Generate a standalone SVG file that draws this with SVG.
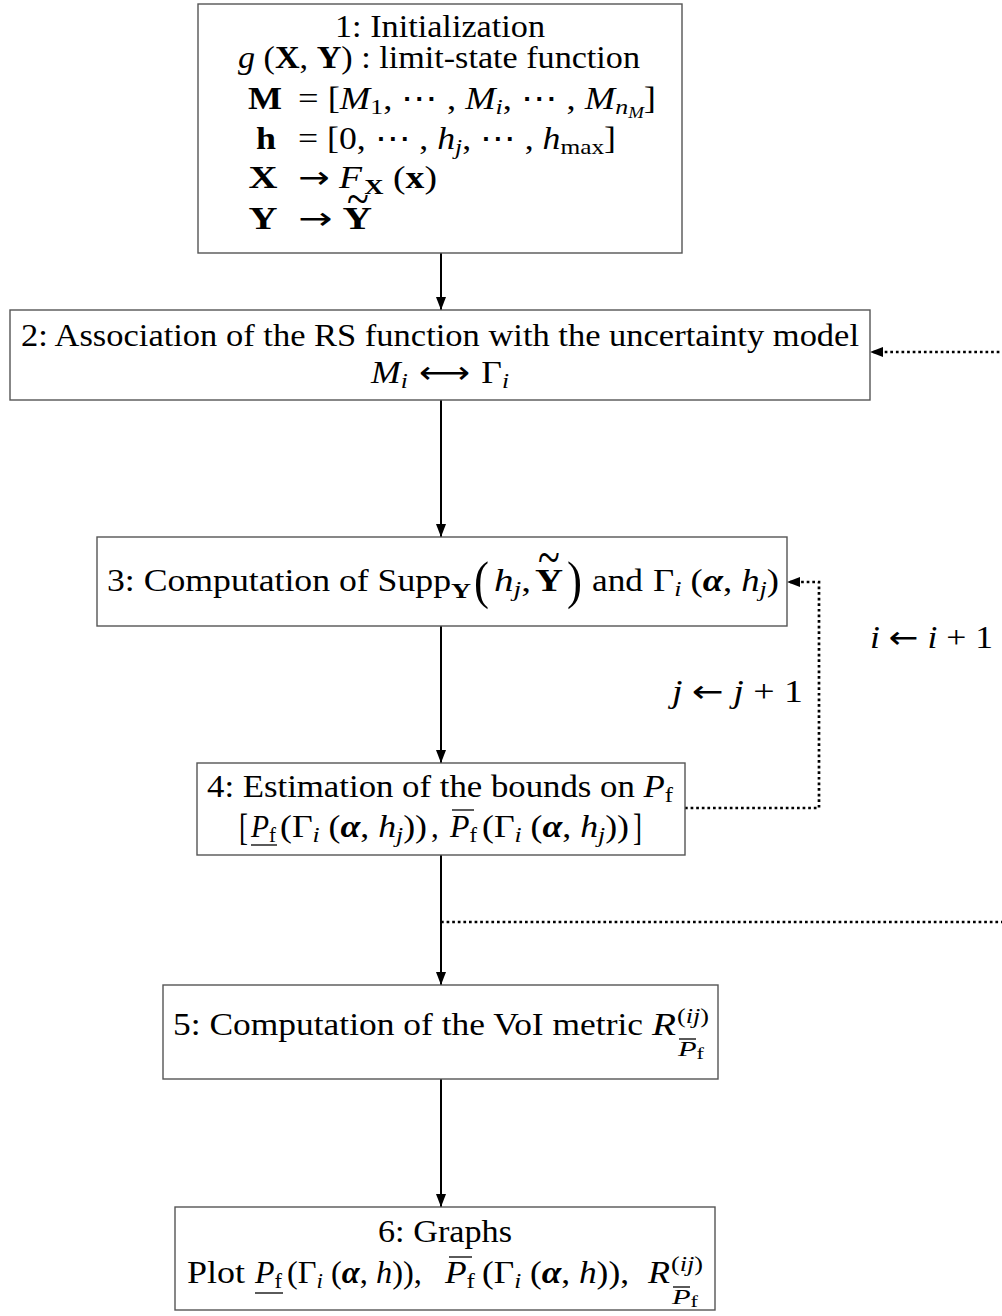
<svg xmlns="http://www.w3.org/2000/svg" width="1002" height="1316" viewBox="0 0 1002 1316">
<defs>
<style>
.t{font-family:"Liberation Serif","DejaVu Serif",serif;font-size:31px;fill:#000}
.i{font-style:italic}
.b{font-weight:bold}
.s{font-size:22px}
.ss{font-size:16px}
.ar{font-family:"DejaVu Sans",sans-serif;font-style:normal;font-weight:normal}
.box{fill:#fff;stroke:#555;stroke-width:1.4}
.edge{stroke:#000;stroke-width:2;fill:none}
.dot{stroke:#000;stroke-width:2.7;stroke-dasharray:2.7 2.9;fill:none}
.rule{stroke:#000;stroke-width:1.3}
</style>
<marker id="ah" markerWidth="13" markerHeight="10" refX="13" refY="5" orient="auto" markerUnits="userSpaceOnUse"><path d="M0,0 L13,5 L0,10 z" fill="#000"/></marker>
<marker id="ahd" markerWidth="13" markerHeight="10" refX="11" refY="5" orient="auto" markerUnits="userSpaceOnUse"><path d="M0,0 L13,5 L0,10 z" fill="#000"/></marker>
</defs>
<rect width="1002" height="1316" fill="#fff"/>

<g id="connectors">
<path class="edge" d="M441,253 V310" marker-end="url(#ah)"/>
<path class="edge" d="M441,400 V537" marker-end="url(#ah)"/>
<path class="edge" d="M441,626 V763" marker-end="url(#ah)"/>
<path class="edge" d="M441,855 V985" marker-end="url(#ah)"/>
<path class="edge" d="M441,1079 V1207" marker-end="url(#ah)"/>
<path class="dot" d="M685,808 H819 V582 H789" marker-end="url(#ahd)"/>
<path class="dot" d="M441,922 H1012 V352 H872" marker-end="url(#ahd)"/>
<text class="t" x="870" y="648" textLength="123" lengthAdjust="spacingAndGlyphs"><tspan class="i">i</tspan> <tspan class="ar">←</tspan> <tspan class="i">i</tspan> + 1</text>
<text class="t" x="672" y="702" textLength="131" lengthAdjust="spacingAndGlyphs"><tspan class="i">j</tspan> <tspan class="ar">←</tspan> <tspan class="i">j</tspan> + 1</text>
</g>

<g id="node1">
<rect class="box" x="198" y="4" width="484" height="249"/>
<text class="t" x="440" y="37" text-anchor="middle" textLength="210" lengthAdjust="spacingAndGlyphs">1: Initialization</text>
<text class="t" x="238" y="68" textLength="402" lengthAdjust="spacingAndGlyphs"><tspan class="i">g</tspan> (<tspan class="b">X</tspan>, <tspan class="b">Y</tspan>) : limit-state function</text>
<text class="t b" x="265" y="109" text-anchor="middle" textLength="34" lengthAdjust="spacingAndGlyphs">M</text>
<text class="t" x="298" y="109" textLength="358" lengthAdjust="spacingAndGlyphs">= [<tspan class="i">M</tspan><tspan class="s" dy="5">1</tspan><tspan dy="-5">, ⋯ , </tspan><tspan class="i">M</tspan><tspan class="s i" dy="5">i</tspan><tspan dy="-5">, ⋯ , </tspan><tspan class="i">M</tspan><tspan class="s i" dy="5">n</tspan><tspan class="ss i" dy="4">M</tspan><tspan dy="-9">]</tspan></text>
<text class="t b" x="266" y="149" text-anchor="middle" textLength="20" lengthAdjust="spacingAndGlyphs">h</text>
<text class="t" x="298" y="149" textLength="318" lengthAdjust="spacingAndGlyphs">= [0, ⋯ , <tspan class="i">h</tspan><tspan class="s i" dy="5">j</tspan><tspan dy="-5">, ⋯ , </tspan><tspan class="i">h</tspan><tspan class="s" dy="5">max</tspan><tspan dy="-5">]</tspan></text>
<text class="t b" x="263" y="188" text-anchor="middle" textLength="29" lengthAdjust="spacingAndGlyphs">X</text>
<text class="t" x="298" y="188" textLength="139" lengthAdjust="spacingAndGlyphs"><tspan class="ar">→</tspan> <tspan class="i">F</tspan><tspan class="s b" dx="2" dy="6">X</tspan><tspan dy="-6"> (</tspan><tspan class="b">x</tspan>)</text>
<text class="t b" x="263" y="229" text-anchor="middle" textLength="29" lengthAdjust="spacingAndGlyphs">Y</text>
<text class="t" x="298" y="229" textLength="74" lengthAdjust="spacingAndGlyphs"><tspan class="ar">→</tspan> <tspan class="b">Y</tspan></text>
<text class="t" transform="translate(358,215) scale(1.3,1.6)" text-anchor="middle">~</text>
</g>

<g id="node2">
<rect class="box" x="10" y="310" width="860" height="90"/>
<text class="t" x="440" y="346" text-anchor="middle" textLength="838" lengthAdjust="spacingAndGlyphs">2: Association of the RS function with the uncertainty model</text>
<text class="t" x="440" y="383" text-anchor="middle" textLength="138" lengthAdjust="spacingAndGlyphs"><tspan class="i">M</tspan><tspan class="s i" dy="5">i</tspan><tspan class="ar" dy="-5"> ⟷ </tspan>Γ<tspan class="s i" dy="5">i</tspan></text>
</g>

<g id="node3">
<rect class="box" x="97" y="537" width="690" height="89"/>
<text class="t" x="107" y="591" textLength="344" lengthAdjust="spacingAndGlyphs">3: Computation of Supp</text>
<text class="t s b" x="451" y="598" textLength="20" lengthAdjust="spacingAndGlyphs">Y</text>
<text class="t" x="474" y="598" style="font-size:52px" textLength="15" lengthAdjust="spacingAndGlyphs">(</text>
<text class="t" x="494" y="591" textLength="37" lengthAdjust="spacingAndGlyphs"><tspan class="i">h</tspan><tspan class="s i" dy="5">j</tspan><tspan dy="-5">,</tspan></text>
<text class="t b" x="535" y="591" textLength="28" lengthAdjust="spacingAndGlyphs">Y</text>
<text class="t" transform="translate(549,575) scale(1.3,1.7)" text-anchor="middle">~</text>
<text class="t" x="567" y="598" style="font-size:52px" textLength="15" lengthAdjust="spacingAndGlyphs">)</text>
<text class="t" x="592" y="591" textLength="51" lengthAdjust="spacingAndGlyphs">and</text>
<text class="t" x="653" y="591" textLength="126" lengthAdjust="spacingAndGlyphs">Γ<tspan class="s i" dy="5">i</tspan><tspan dy="-5"> (</tspan><tspan class="b i">α</tspan>, <tspan class="i">h</tspan><tspan class="s i" dy="5">j</tspan><tspan dy="-5">)</tspan></text>
</g>

<g id="node4">
<rect class="box" x="197" y="763" width="488" height="92"/>
<text class="t" x="207" y="797" textLength="466" lengthAdjust="spacingAndGlyphs">4: Estimation of the bounds on <tspan class="i">P</tspan><tspan class="s" dy="5">f</tspan></text>
<text class="t" x="239" y="840" style="font-size:38px" textLength="9" lengthAdjust="spacingAndGlyphs">[</text>
<text class="t" x="251" y="837" textLength="25" lengthAdjust="spacingAndGlyphs"><tspan class="i">P</tspan><tspan class="s" dy="5">f</tspan></text>
<line class="rule" x1="251" y1="845" x2="277" y2="845"/>
<text class="t" x="280" y="837" textLength="147" lengthAdjust="spacingAndGlyphs">(Γ<tspan class="s i" dy="5">i</tspan><tspan dy="-5"> (</tspan><tspan class="b i">α</tspan>, <tspan class="i">h</tspan><tspan class="s i" dy="5">j</tspan><tspan dy="-5">))</tspan></text>
<text class="t" x="431" y="837">,</text>
<text class="t" x="450" y="837" textLength="27" lengthAdjust="spacingAndGlyphs"><tspan class="i">P</tspan><tspan class="s" dy="5">f</tspan></text>
<line class="rule" x1="452" y1="810" x2="474" y2="810"/>
<text class="t" x="482" y="837" textLength="147" lengthAdjust="spacingAndGlyphs">(Γ<tspan class="s i" dy="5">i</tspan><tspan dy="-5"> (</tspan><tspan class="b i">α</tspan>, <tspan class="i">h</tspan><tspan class="s i" dy="5">j</tspan><tspan dy="-5">))</tspan></text>
<text class="t" x="633" y="840" style="font-size:38px" textLength="9" lengthAdjust="spacingAndGlyphs">]</text>
</g>

<g id="node5">
<rect class="box" x="163" y="985" width="555" height="94"/>
<text class="t" x="173" y="1035" textLength="470" lengthAdjust="spacingAndGlyphs">5: Computation of the VoI metric</text>
<text class="t i" x="652" y="1035" textLength="24" lengthAdjust="spacingAndGlyphs">R</text>
<text class="t s" x="677" y="1023" textLength="32" lengthAdjust="spacingAndGlyphs">(<tspan class="i">ij</tspan>)</text>
<text class="t s" x="678" y="1056" textLength="26" lengthAdjust="spacingAndGlyphs"><tspan class="i">P</tspan><tspan class="ss" dy="3">f</tspan></text>
<line class="rule" x1="679" y1="1039" x2="696" y2="1039"/>
</g>

<g id="node6">
<rect class="box" x="175" y="1207" width="540" height="103"/>
<text class="t" x="445" y="1242" text-anchor="middle" textLength="134" lengthAdjust="spacingAndGlyphs">6: Graphs</text>
<text class="t" x="187" y="1283" textLength="58" lengthAdjust="spacingAndGlyphs">Plot</text>
<text class="t" x="255" y="1283" textLength="27" lengthAdjust="spacingAndGlyphs"><tspan class="i">P</tspan><tspan class="s" dy="5">f</tspan></text>
<line class="rule" x1="255" y1="1293" x2="283" y2="1293"/>
<text class="t" x="287" y="1283" textLength="135" lengthAdjust="spacingAndGlyphs">(Γ<tspan class="s i" dy="5">i</tspan><tspan dy="-5"> (</tspan><tspan class="b i">α</tspan>, <tspan class="i">h</tspan>)),</text>
<text class="t" x="445" y="1283" textLength="30" lengthAdjust="spacingAndGlyphs"><tspan class="i">P</tspan><tspan class="s" dy="5">f</tspan></text>
<line class="rule" x1="449" y1="1257" x2="472" y2="1257"/>
<text class="t" x="482" y="1283" textLength="147" lengthAdjust="spacingAndGlyphs">(Γ<tspan class="s i" dy="5">i</tspan><tspan dy="-5"> (</tspan><tspan class="b i">α</tspan>, <tspan class="i">h</tspan>)),</text>
<text class="t i" x="648" y="1283" textLength="22" lengthAdjust="spacingAndGlyphs">R</text>
<text class="t s" x="671" y="1271" textLength="32" lengthAdjust="spacingAndGlyphs">(<tspan class="i">ij</tspan>)</text>
<text class="t s" x="672" y="1304" textLength="26" lengthAdjust="spacingAndGlyphs"><tspan class="i">P</tspan><tspan class="ss" dy="3">f</tspan></text>
<line class="rule" x1="673" y1="1287" x2="690" y2="1287"/>
</g>
</svg>
